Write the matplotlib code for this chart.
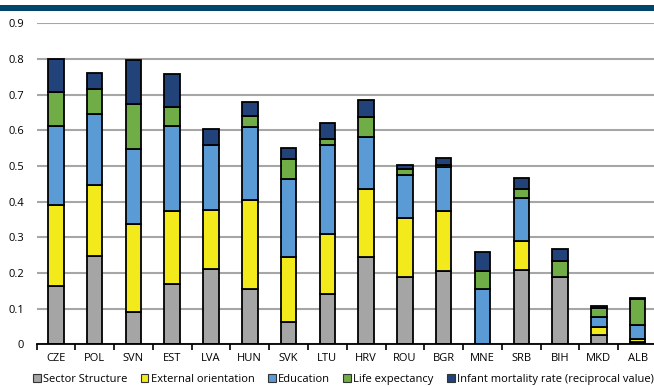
import matplotlib
matplotlib.use("Agg")
import matplotlib.pyplot as plt
from matplotlib.patches import Rectangle, Patch
import numpy as np

plt.rcParams['font.family'] = ['Open Sans', 'DejaVu Sans']

countries = ["CZE", "POL", "SVN", "EST", "LVA", "HUN", "SVK", "LTU",
             "HRV", "ROU", "BGR", "MNE", "SRB", "BIH", "MKD", "ALB"]

sector_structure = [0.164, 0.248, 0.090, 0.168, 0.212, 0.155, 0.062, 0.141,
                    0.244, 0.188, 0.205, 0.000, 0.208, 0.190, 0.026, 0.006]
external_orientation = [0.226, 0.199, 0.246, 0.207, 0.165, 0.250, 0.184, 0.167,
                        0.191, 0.165, 0.170, 0.000, 0.082, 0.000, 0.023, 0.010]
education = [0.222, 0.198, 0.211, 0.237, 0.182, 0.203, 0.217, 0.251,
             0.147, 0.122, 0.123, 0.156, 0.121, 0.000, 0.027, 0.039]
life_expectancy = [0.094, 0.071, 0.126, 0.054, 0.000, 0.032, 0.056, 0.016,
                   0.056, 0.016, 0.004, 0.049, 0.024, 0.044, 0.027, 0.073]
infant_mortality = [0.093, 0.045, 0.124, 0.091, 0.044, 0.040, 0.032, 0.046,
                    0.047, 0.012, 0.019, 0.053, 0.030, 0.033, 0.003, 0.001]

series = [
    ("Sector Structure", sector_structure, "#A5A5A5"),
    ("External orientation", external_orientation, "#F2EA1A"),
    ("Education", education, "#5B9BD5"),
    ("Life expectancy", life_expectancy, "#70AD47"),
    ("Infant mortality rate (reciprocal value)", infant_mortality, "#22427A"),
]

W, H = 654, 387
fig = plt.figure(figsize=(W / 100, H / 100), dpi=100)

# header band
fig.patches.append(Rectangle((0, 1 - 11 / H), 1, 6 / H, transform=fig.transFigure,
                             facecolor="#00466A", edgecolor="none", zorder=0))

ax = fig.add_axes([36.5 / W, 42.7 / H, 620.5 / W, 321 / H])
x = np.arange(len(countries))
bottom = np.zeros(len(countries))
for name, vals, col in series:
    vals = np.array(vals)
    ax.bar(x, vals, width=0.4, bottom=bottom, color=col, edgecolor="black",
           linewidth=1.3, label=name, zorder=3)
    bottom += vals

ax.set_xlim(-0.5, len(countries) - 0.5)
ax.set_ylim(0, 0.9)
ax.set_yticks(np.arange(0, 0.91, 0.1))
ax.set_yticklabels(["0"] + [f"{v:.1f}" for v in np.arange(0.1, 0.91, 0.1)])
ax.yaxis.grid(True, color="#A6A6A6", linewidth=1.5, zorder=0)
ax.set_axisbelow(True)
for s in ["left", "right", "top"]:
    ax.spines[s].set_visible(False)
ax.spines["bottom"].set_linewidth(1.3)
ax.spines["bottom"].set_zorder(4)

ax.set_xticks(x)
ax.set_xticklabels(countries)
ax.set_xticks(np.arange(-0.5, len(countries), 1.0), minor=True)
ax.tick_params(axis="x", which="major", length=0, pad=6, labelsize=8)
ax.tick_params(axis="x", which="minor", length=4, width=1.2, direction="out")
ax.tick_params(axis="y", length=0, pad=9, labelsize=8)

handles = [Patch(facecolor=col, edgecolor="#333333", linewidth=0.8)
           for _, _, col in series]
fig.legend(handles, [s[0] for s in series], loc="center", ncol=5,
           bbox_to_anchor=(0.525, 7.5 / H), frameon=False, fontsize=8,
           handlelength=0.7, handleheight=0.7, handletextpad=0.2,
           columnspacing=1.2, borderaxespad=0, borderpad=0)

fig.savefig("out.png", dpi=100)
